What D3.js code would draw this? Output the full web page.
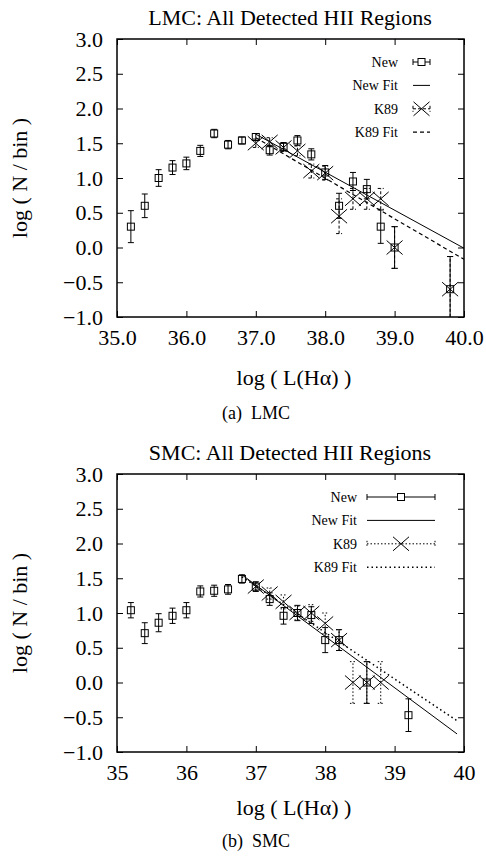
<!DOCTYPE html>
<html>
<head>
<meta charset="utf-8">
<script src="https://cdn.jsdelivr.net/npm/d3@7"></script>
<style>
body{margin:0;background:#fff}
text{font-family:"Liberation Serif","Times New Roman",serif;fill:#000}
</style>
</head>
<body>
<svg id="fig" width="486" height="860"></svg>
<script>
// LMC, new catalogue
lmc_new_x   = [35.2, 35.4, 35.6, 35.8, 36.0, 36.2, 36.4, 36.6, 36.8, 37.0, 37.2, 37.4, 37.6, 37.8, 38.0, 38.2, 38.4, 38.6, 38.8, 39.0, 39.8]
lmc_new_y   = [0.30, 0.60, 1.00, 1.15, 1.21, 1.39, 1.64, 1.48, 1.54, 1.59, 1.40, 1.45, 1.54, 1.34, 1.08, 0.60, 0.95, 0.84, 0.30, 0.00, -0.60]
lmc_new_err = [0.23, 0.17, 0.12, 0.10, 0.09, 0.08, 0.06, 0.06, 0.05, 0.05, 0.07, 0.06, 0.07, 0.08, 0.10, 0.18, 0.13, 0.14, 0.24, 0.30, 0.47]
// LMC, K89
lmc_k89_x   = [37.0, 37.2, 37.4, 37.6, 37.8, 38.0, 38.2, 38.4, 38.6, 38.8, 39.0, 39.8]
lmc_k89_y   = [1.50, 1.52, 1.44, 1.39, 1.10, 1.07, 0.45, 0.70, 0.70, 0.70, 0.00, -0.60]
lmc_k89_err = [0.06, 0.06, 0.06, 0.07, 0.10, 0.10, 0.25, 0.15, 0.15, 0.15, 0.30, 0.47]
// fit lines [x0, y0, x1, y1]
lmc_new_fit = [37.0, 1.63, 40.0, -0.01]
lmc_k89_fit = [37.0, 1.58, 40.0, -0.17]

// SMC, new catalogue
smc_new_x   = [35.2, 35.4, 35.6, 35.8, 36.0, 36.2, 36.4, 36.6, 36.8, 37.0, 37.2, 37.4, 37.6, 37.8, 38.0, 38.2, 38.6, 39.2]
smc_new_y   = [1.04, 0.71, 0.86, 0.96, 1.04, 1.31, 1.32, 1.34, 1.49, 1.38, 1.20, 0.96, 1.00, 0.97, 0.61, 0.61, 0.00, -0.47]
smc_new_err = [0.11, 0.15, 0.13, 0.11, 0.11, 0.08, 0.08, 0.07, 0.06, 0.07, 0.09, 0.12, 0.11, 0.12, 0.18, 0.15, 0.30, 0.235]
// SMC, K89
smc_k89_x   = [37.0, 37.2, 37.4, 37.6, 37.8, 38.0, 38.2, 38.4, 38.6, 38.8]
smc_k89_y   = [1.38, 1.28, 1.16, 1.00, 1.00, 0.85, 0.61, 0.00, 0.00, 0.00]
smc_k89_err = [0.06, 0.08, 0.10, 0.10, 0.12, 0.15, 0.15, 0.30, 0.30, 0.30]
smc_new_fit = [36.8, 1.55, 39.9, -0.74]
smc_k89_fit = [36.8, 1.52, 39.9, -0.55]

x_ticks = [35, 36, 37, 38, 39, 40]
y_ticks = [-1.0, -0.5, 0.0, 0.5, 1.0, 1.5, 2.0, 2.5, 3.0]
legend_labels = ["New", "New Fit", "K89", "K89 Fit"]

svg = d3.select("#fig")

function draw_panel(p){
    g = svg.append("g").attr("transform", "translate(0," + p.dy + ")")
    W = 347; H = 278; L = 117; T = 39
    x = d3.scaleLinear().domain([35, 40]).range([L, L + W])
    y = d3.scaleLinear().domain([-1, 3]).range([T + H, T])

    g.append("text").attr("x", 290).attr("y", 25).attr("text-anchor", "middle")
        .attr("font-size", 22).text(p.title)

    // axes, ticks pointing inward on all four sides
    ax = g.append("g").attr("transform", "translate(0," + (T + H) + ")")
        .call(d3.axisBottom(x).tickValues(x_ticks).tickSize(-6).tickPadding(12).tickFormat(p.xfmt))
    ax.selectAll("text").attr("font-size", 22).attr("font-family", "Liberation Serif")
    g.append("g").attr("transform", "translate(0," + T + ")")
        .call(d3.axisTop(x).tickValues(x_ticks).tickSize(-6).tickFormat(""))
    ay = g.append("g").attr("transform", "translate(" + L + ",0)")
        .call(d3.axisLeft(y).tickValues(y_ticks).tickSize(-6).tickPadding(14).tickFormat(d3.format(".1f")))
    ay.selectAll("text").attr("font-size", 22).attr("font-family", "Liberation Serif")
    g.append("g").attr("transform", "translate(" + (L + W) + ",0)")
        .call(d3.axisRight(y).tickValues(y_ticks).tickSize(-6).tickFormat(""))
    g.selectAll(".domain").remove()
    g.selectAll(".tick line").attr("stroke", "#000")
    g.append("rect").attr("x", L).attr("y", T).attr("width", W).attr("height", H)
        .attr("fill", "none").attr("stroke", "#000").attr("stroke-width", 1.5)

    g.append("text").attr("x", 294).attr("y", p.xlab_y).attr("text-anchor", "middle")
        .attr("font-size", 22).text("log ( L(H\u03b1) )")
    g.append("text").attr("transform", "translate(27," + (T + H / 2) + ") rotate(-90)")
        .attr("text-anchor", "middle").attr("font-size", 22).text("log ( N / bin )")
    g.append("text").attr("x", 256).attr("y", p.cap_y).attr("text-anchor", "middle")
        .attr("font-size", 18).attr("xml:space", "preserve").text(p.caption)

    clip_id = "clip" + p.dy
    g.append("clipPath").attr("id", clip_id).append("rect")
        .attr("x", L).attr("y", T).attr("width", W).attr("height", H)
    plot = g.append("g").attr("clip-path", "url(#" + clip_id + ")")

    // fit lines
    plot.append("line").attr("x1", x(p.new_fit[0])).attr("y1", y(p.new_fit[1]))
        .attr("x2", x(p.new_fit[2])).attr("y2", y(p.new_fit[3])).attr("stroke", "#000")
    plot.append("line").attr("x1", x(p.k89_fit[0])).attr("y1", y(p.k89_fit[1]))
        .attr("x2", x(p.k89_fit[2])).attr("y2", y(p.k89_fit[3])).attr("stroke", "#000")
        .attr("stroke-width", p.fit_w).attr("stroke-dasharray", p.fit_dash)

    // K89 points: error bars + crosses
    k89 = p.k89_x.map(function(d, i){ return {x: d, y: p.k89_y[i], e: p.k89_err[i]} })
    kg = plot.selectAll(".k89").data(k89).join("g").attr("class", "k89")
    kg.append("line").attr("x1", d => x(d.x)).attr("x2", d => x(d.x))
        .attr("y1", d => y(d.y - d.e)).attr("y2", d => y(d.y + d.e))
        .attr("stroke", "#000").attr("stroke-dasharray", p.err_dash)
    ;[-1, 1].forEach(function(s){
        kg.append("line").attr("x1", d => x(d.x) - 3).attr("x2", d => x(d.x) + 3)
            .attr("y1", d => y(d.y + s * d.e)).attr("y2", d => y(d.y + s * d.e))
            .attr("stroke", "#000").attr("stroke-dasharray", p.err_dash)
    })
    kg.append("path").attr("d", d => cross(x(d.x), y(d.y))).attr("stroke", "#000").attr("fill", "none")

    // new points: error bars + squares
    nw = p.new_x.map(function(d, i){ return {x: d, y: p.new_y[i], e: p.new_err[i]} })
    ng = plot.selectAll(".newpt").data(nw).join("g").attr("class", "newpt")
    ng.append("line").attr("x1", d => x(d.x)).attr("x2", d => x(d.x))
        .attr("y1", d => y(d.y - d.e)).attr("y2", d => y(d.y + d.e)).attr("stroke", "#000")
    ;[-1, 1].forEach(function(s){
        ng.append("line").attr("x1", d => x(d.x) - 3).attr("x2", d => x(d.x) + 3)
            .attr("y1", d => y(d.y + s * d.e)).attr("y2", d => y(d.y + s * d.e)).attr("stroke", "#000")
    })
    ng.append("rect").attr("x", d => x(d.x) - 3.5).attr("y", d => y(d.y) - 3.5)
        .attr("width", 7).attr("height", 7).attr("fill", "none").attr("stroke", "#000")

    // legend
    lg = g.append("g")
    legend_labels.forEach(function(t, i){
        yy = p.leg_y0 + i * p.leg_dy
        lg.append("text").attr("x", p.leg_tx).attr("y", yy).attr("dy", "0.35em")
            .attr("text-anchor", "end").attr("font-size", 14).text(t)
        x0 = p.leg_s0; x1 = p.leg_s1; xm = (x0 + x1) / 2
        if (i === 0 || i === 2){
            dash = i === 2 ? p.err_dash : null
            lg.append("line").attr("x1", x0).attr("x2", x1).attr("y1", yy).attr("y2", yy)
                .attr("stroke", "#000").attr("stroke-dasharray", dash)
            ;[x0, x1].forEach(function(xc){
                lg.append("line").attr("x1", xc).attr("x2", xc).attr("y1", yy - 3).attr("y2", yy + 3)
                    .attr("stroke", "#000").attr("stroke-dasharray", dash)
            })
            if (i === 0){
                lg.append("rect").attr("x", xm - 3.5).attr("y", yy - 3.5).attr("width", 7).attr("height", 7)
                    .attr("fill", "#fff").attr("stroke", "#000")
            } else {
                lg.append("path").attr("d", cross(xm, yy)).attr("stroke", "#000").attr("fill", "none")
            }
        } else {
            lg.append("line").attr("x1", x0).attr("x2", x1).attr("y1", yy).attr("y2", yy)
                .attr("stroke", "#000")
                .attr("stroke-width", i === 3 ? p.fit_w : 1)
                .attr("stroke-dasharray", i === 3 ? p.fit_dash : null)
        }
    })
}

function cross(cx, cy){
    return "M" + (cx - 8) + "," + (cy - 7) + "L" + (cx + 8) + "," + (cy + 7) +
           "M" + (cx - 8) + "," + (cy + 7) + "L" + (cx + 8) + "," + (cy - 7)
}

draw_panel({dy: 0, title: "LMC: All Detected HII Regions", caption: "(a)  LMC",
    xfmt: d3.format(".1f"), xlab_y: 385, cap_y: 419,
    new_x: lmc_new_x, new_y: lmc_new_y, new_err: lmc_new_err,
    k89_x: lmc_k89_x, k89_y: lmc_k89_y, k89_err: lmc_k89_err,
    new_fit: lmc_new_fit, k89_fit: lmc_k89_fit,
    fit_dash: "4,3", fit_w: 1.2, err_dash: "3,2",
    leg_tx: 398, leg_s0: 413, leg_s1: 430, leg_y0: 62, leg_dy: 23.4})

draw_panel({dy: 435, title: "SMC: All Detected HII Regions", caption: "(b)  SMC",
    xfmt: d3.format("d"), xlab_y: 380, cap_y: 412,
    new_x: smc_new_x, new_y: smc_new_y, new_err: smc_new_err,
    k89_x: smc_k89_x, k89_y: smc_k89_y, k89_err: smc_k89_err,
    new_fit: smc_new_fit, k89_fit: smc_k89_fit,
    fit_dash: "1.5,3", fit_w: 1.5, err_dash: "1.5,2",
    leg_tx: 357, leg_s0: 367, leg_s1: 435, leg_y0: 62, leg_dy: 23.4})
</script>
</body>
</html>
